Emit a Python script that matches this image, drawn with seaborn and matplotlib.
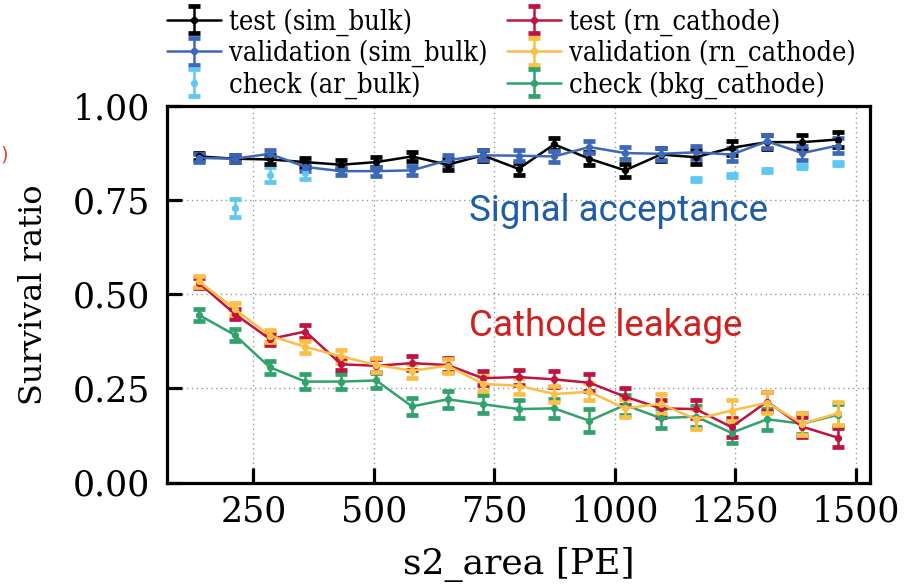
import matplotlib
matplotlib.use("Agg")
import matplotlib.pyplot as plt
from matplotlib.font_manager import FontProperties
import seaborn as sns
import numpy as np

# ---------------- data ----------------
s2_area = [137, 211, 284, 358, 432, 505, 579, 653, 726, 800,
           874, 947, 1021, 1095, 1168, 1242, 1316, 1389, 1463]

test_sim_bulk = [0.866, 0.860, 0.858, 0.851, 0.844, 0.851, 0.866, 0.844, 0.869, 0.833,
                 0.898, 0.860, 0.829, 0.871, 0.864, 0.889, 0.904, 0.904, 0.911]
test_sim_bulk_err = [0.010, 0.010, 0.012, 0.012, 0.012, 0.013, 0.013, 0.014, 0.014, 0.016,
                     0.016, 0.018, 0.018, 0.017, 0.018, 0.018, 0.019, 0.019, 0.019]

val_sim_bulk = [0.862, 0.860, 0.873, 0.838, 0.827, 0.827, 0.829, 0.856, 0.869, 0.868,
                0.866, 0.891, 0.875, 0.873, 0.877, 0.871, 0.906, 0.875, 0.895]
val_sim_bulk_err = [0.010, 0.010, 0.011, 0.011, 0.011, 0.012, 0.012, 0.013, 0.013, 0.014,
                    0.015, 0.016, 0.016, 0.016, 0.017, 0.018, 0.018, 0.019, 0.019]

ar_x = [211, 284, 358, 1168, 1242, 1316, 1389, 1463]
check_ar_bulk = [0.730, 0.818, 0.822, 0.804, 0.816, 0.829, 0.838, 0.846]
check_ar_bulk_err = [0.024, 0.019, 0.017, 0.004, 0.004, 0.004, 0.004, 0.004]

test_rn_cathode = [0.530, 0.448, 0.381, 0.401, 0.314, 0.310, 0.317, 0.312, 0.277, 0.280,
                   0.274, 0.265, 0.228, 0.197, 0.195, 0.147, 0.215, 0.148, 0.119]
test_rn_cathode_err = [0.013, 0.014, 0.015, 0.016, 0.016, 0.017, 0.018, 0.018, 0.019, 0.020,
                       0.021, 0.022, 0.022, 0.023, 0.024, 0.025, 0.025, 0.026, 0.026]

val_rn_cathode = [0.534, 0.461, 0.390, 0.360, 0.335, 0.312, 0.297, 0.310, 0.262, 0.257,
                  0.235, 0.241, 0.197, 0.209, 0.168, 0.191, 0.212, 0.156, 0.184]
val_rn_cathode_err = [0.014, 0.015, 0.016, 0.017, 0.017, 0.018, 0.019, 0.019, 0.020, 0.021,
                      0.022, 0.023, 0.024, 0.025, 0.026, 0.028, 0.028, 0.029, 0.030]

check_bkg_cathode = [0.445, 0.392, 0.306, 0.268, 0.268, 0.271, 0.202, 0.221, 0.208, 0.195,
                     0.197, 0.164, 0.206, 0.171, 0.175, 0.132, 0.168, 0.156, 0.180]
check_bkg_cathode_err = [0.016, 0.017, 0.018, 0.019, 0.020, 0.021, 0.022, 0.023, 0.024, 0.025,
                         0.026, 0.030, 0.027, 0.027, 0.027, 0.028, 0.028, 0.028, 0.029]

labels = ["test (sim_bulk)", "validation (sim_bulk)", "check (ar_bulk)",
          "test (rn_cathode)", "validation (rn_cathode)", "check (bkg_cathode)"]
colors = ["#000000", "#3d68b8", "#5ec8f2", "#c0133f", "#fbbf45", "#2fa36b"]

# ---------------- style ----------------
sns.set_theme(style="white")
plt.rcParams["font.family"] = ["DejaVu Serif"]
plt.rcParams["axes.edgecolor"] = "black"
plt.rcParams["text.color"] = "black"
plt.rcParams["axes.labelcolor"] = "black"
plt.rcParams["xtick.color"] = "black"
plt.rcParams["ytick.color"] = "black"

fig = plt.figure(figsize=(9.22, 5.88), dpi=100)
ax = fig.add_axes([167 / 922, 1 - 482.5 / 588, (870 - 167) / 922, (482.5 - 106) / 588])

ekw = dict(lw=1.8, elinewidth=1.8, capsize=4.0, capthick=3.4, markersize=4.2, marker="o")

series = [
    (s2_area, test_sim_bulk, test_sim_bulk_err, "-"),
    (s2_area, val_sim_bulk, val_sim_bulk_err, "-"),
    (ar_x, check_ar_bulk, check_ar_bulk_err, "none"),
    (s2_area, test_rn_cathode, test_rn_cathode_err, "-"),
    (s2_area, val_rn_cathode, val_rn_cathode_err, "-"),
    (s2_area, check_bkg_cathode, check_bkg_cathode_err, "-"),
]
draw_order = [2, 0, 1, 5, 3, 4]
handles = [None] * 6
for i in draw_order:
    x, y, e, ls = series[i]
    h = ax.errorbar(x, y, yerr=e, color=colors[i], linestyle=ls, label=labels[i], **ekw)
    handles[i] = h

ax.set_ylim(0, 1.0)
ax.set_yticks([0.0, 0.25, 0.5, 0.75, 1.0])
ax.set_xticks([250, 500, 750, 1000, 1250, 1500])
ax.grid(True, linestyle=(0, (1, 2.5)), color="#999999", linewidth=1.0)
for s in ax.spines.values():
    s.set_linewidth(2.3)
    s.set_color("black")
ax.tick_params(axis="both", direction="in", length=11, width=2.3, labelsize=25,
               bottom=True, left=True, top=False, right=False)
ax.tick_params(axis="x", pad=9)
ax.tick_params(axis="y", pad=12)
ax.set_ylabel("Survival ratio", fontsize=23, labelpad=17)
ax.set_xlabel("s2_area [PE]", fontsize=26, labelpad=13)

ax.text(698, 0.695, "Signal acceptance", color="#1f5ea6", fontsize=26.5,
        family="Roboto", ha="left", va="baseline")
ax.text(698, 0.389, "Cathode leakage", color="#d0211e", fontsize=26.5,
        family="Roboto", ha="left", va="baseline")

legprop = FontProperties(family="DejaVu Serif", stretch="condensed", size=19.5)
leg = fig.legend(handles, labels, ncol=2, loc="upper left",
                 bbox_to_anchor=(167 / 922, 1 - 8 / 588), frameon=False,
                 prop=legprop, handlelength=2.0, handletextpad=0.3, columnspacing=0.7,
                 labelspacing=0.14, borderpad=0.0, borderaxespad=0.0)

fig.text(0.5 / 922, 1 - 155 / 588, ")", color="#e0453f", fontsize=14,
         ha="left", va="center", family="DejaVu Sans")

fig.savefig("out.png", dpi=100)
